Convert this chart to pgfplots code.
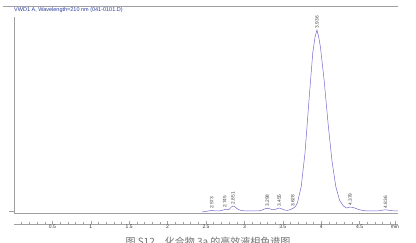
\documentclass[border=0pt]{standalone}
\usepackage{fontspec}
\setmainfont{Liberation Sans}
\newfontfamily\cjk{Noto Sans CJK SC}
\usepackage{pgfplots}
\usepackage{pgfplotstable}
\pgfplotsset{compat=1.18}
\definecolor{trace}{RGB}{115,105,205}
\definecolor{ttl}{RGB}{40,60,160}
\definecolor{axg}{RGB}{160,160,160}

\pgfplotstableread{
t y
2.45 1.0
2.50 1.6
2.53 2.0
2.55 2.3
2.573 2.6
2.60 2.3
2.63 2.0
2.68 2.1
2.71 2.6
2.745 3.5
2.78 3.2
2.80 3.6
2.83 6.0
2.851 7.0
2.875 6.3
2.90 4.6
2.93 3.2
2.97 2.4
3.02 2.0
3.10 2.0
3.18 2.1
3.22 2.6
3.26 4.0
3.298 4.8
3.33 4.2
3.37 3.2
3.40 3.5
3.43 4.5
3.455 4.9
3.48 4.3
3.52 3.0
3.56 2.6
3.60 3.4
3.628 4.4
3.66 6.2
3.69 9.9
3.74 26.5
3.79 60.8
3.84 111.8
3.89 160.0
3.92 176.0
3.945 183
3.97 175.0
3.99 166
4.04 131.4
4.09 89.1
4.14 52.3
4.19 26.5
4.24 12.5
4.29 7.0
4.33 5.0
4.36 5.7
4.379 5.9
4.41 5.6
4.45 4.6
4.50 3.2
4.55 2.4
4.60 2.1
4.70 2.0
4.76 2.3
4.80 2.9
4.836 3.2
4.87 2.9
4.92 2.3
4.97 2.0
5.00 2.0
}\trace

\pgfplotstableread{
t y label
2.573 2.6 2.573
2.745 3.5 2.745
2.851 7.0 2.851
3.298 4.8 3.298
3.455 4.9 3.455
3.628 4.4 3.628
3.945 183 3.936
4.379 5.9 4.379
4.836 3.2 4.836
}\peaks

\begin{document}
\begin{tikzpicture}
\path[use as bounding box] (0,0) rectangle (416pt,243pt);
\draw[axg, line width=0.5pt] (3pt,237pt) -- (398pt,237pt);
\node[anchor=west, inner sep=0pt, text=ttl, font=\fontsize{5.5}{6}\selectfont] at (14pt,233pt) {VWD1 A, Wavelength=210 nm (041-0101.D)};

\begin{axis}[
  at={(14pt,30pt)}, anchor=south west,
  scale only axis, width=384pt, height=196pt,
  xmin=0, xmax=5, ymin=0, ymax=196,
  axis x line=none, axis y line*=left,
  axis line style={axg, line width=0.5pt},
  ytick={1.5}, yticklabels={}, tick align=outside,
  major tick length=5pt, tick style={axg, line width=0.4pt},
  clip=false,
]
\addplot[axg, line width=0.5pt] coordinates {(0,0) (5,0)};
\addplot[trace, line width=0.5pt] table[x=t, y=y] {\trace};
\addplot[draw=none, mark=none, point meta=explicit symbolic,
  nodes near coords,
  nodes near coords style={rotate=90, anchor=west, inner sep=1.5pt,
    font=\fontsize{4.8}{5}\selectfont, text=black!75}]
  table[x=t, y=y, meta=label] {\peaks};
\end{axis}

\begin{axis}[
  at={(14pt,19pt)}, anchor=south west,
  scale only axis, width=384pt, height=5pt,
  xmin=0, xmax=5, ymin=0, ymax=1,
  axis x line*=bottom, axis y line=none,
  axis line style={axg, line width=0.5pt},
  xtick={0.5,1,1.5,2,2.5,3,3.5,4,4.5,4.96},
  xticklabels={0.5,1,1.5,2,2.5,3,3.5,4,4.5,min},
  minor xtick={0.1,0.2,...,4.9},
  tick align=inside, major tick length=3pt, minor tick length=1.8pt,
  tick style={axg, line width=0.4pt},
  xticklabel style={font=\fontsize{5}{5}\selectfont, text=black!80, inner sep=1pt},
  /pgf/number format/assume math mode=true,
]
\addplot[draw=none] coordinates {(0,0) (5,0)};
\end{axis}

\node[anchor=base, text=black!55, font=\cjk\fontsize{10}{10}\selectfont] at (208pt,-3pt) {图 S12\quad 化合物 3a 的高效液相色谱图};
\end{tikzpicture}
\end{document}
